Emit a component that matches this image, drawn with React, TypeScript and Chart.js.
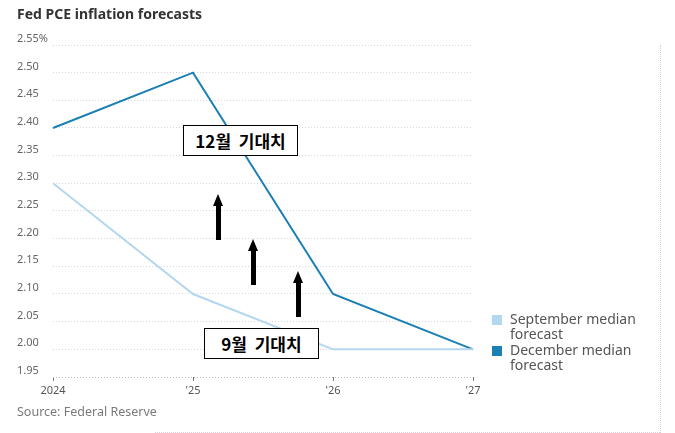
import React, { useEffect, useRef } from "react";
import { Chart, registerables } from "chart.js";

Chart.register(...registerables);

const years = ["2024", "'25", "'26", "'27"];
const septemberForecast = [2.3, 2.1, 2.0, 2.0];
const decemberForecast = [2.4, 2.5, 2.1, 2.0];
const yMin = 1.95;
const yMax = 2.55;
const yStep = 0.05;

const FONT = "'Noto Sans', 'Open Sans', sans-serif";
const KFONT = "'Noto Sans CJK KR', 'Noto Sans', sans-serif";

function Arrow({ x, top, bottom }: { x: number; top: number; bottom: number }) {
  const headH = 12;
  const headW = 11;
  const shaft = 5;
  return (
    <div style={{ position: "absolute", left: x - headW / 2, top, width: headW, height: bottom - top }}>
      <div
        style={{
          position: "absolute",
          left: 0,
          top: 0,
          width: 0,
          height: 0,
          borderLeft: `${headW / 2}px solid transparent`,
          borderRight: `${headW / 2}px solid transparent`,
          borderBottom: `${headH}px solid #000`,
        }}
      />
      <div
        style={{
          position: "absolute",
          left: (headW - shaft) / 2,
          top: headH - 1,
          width: shaft,
          height: bottom - top - headH + 1,
          background: "#000",
        }}
      />
    </div>
  );
}

function Box({ left, top, text }: { left: number; top: number; text: string }) {
  return (
    <div
      style={{
        position: "absolute",
        left,
        top,
        width: 115,
        height: 31,
        boxSizing: "border-box",
        border: "1px solid #000",
        background: "#fff",
        display: "flex",
        alignItems: "center",
        justifyContent: "center",
        fontFamily: KFONT,
        fontWeight: 700,
        fontSize: 17,
        color: "#000",
        whiteSpace: "pre",
      }}
    >
      {text}
    </div>
  );
}

export default function App() {
  const canvasRef = useRef<HTMLCanvasElement | null>(null);

  useEffect(() => {
    if (!canvasRef.current) return;
    const chart = new Chart(canvasRef.current, {
      type: "line",
      data: {
        labels: years,
        datasets: [
          {
            label: "September median forecast",
            data: septemberForecast,
            borderColor: "#b3d7ef",
            borderWidth: 2,
            pointRadius: 0,
            tension: 0,
          },
          {
            label: "December median forecast",
            data: decemberForecast,
            borderColor: "#1a7fb5",
            borderWidth: 2,
            pointRadius: 0,
            tension: 0,
          },
        ],
      },
      options: {
        animation: false,
        responsive: false,
        maintainAspectRatio: false,
        layout: { padding: { left: 17, top: 45, right: 202, bottom: 36 } },
        plugins: {
          legend: { display: false },
          tooltip: { enabled: false },
          title: { display: false },
        },
        scales: {
          x: {
            type: "category",
            offset: false,
            grid: {
              display: true,
              drawOnChartArea: false,
              drawTicks: true,
              tickLength: 4,
              color: "#777",
            },
            border: { display: false },
            ticks: {
              color: "#555",
              font: { family: FONT, size: 11 },
              padding: 3,
              maxRotation: 0,
            },
            afterFit: (scale: any) => {
              scale.height = 20;
            },
          },
          y: {
            type: "linear",
            min: yMin,
            max: yMax,
            grid: {
              color: (ctx: any) => (ctx.tick && Math.abs(ctx.tick.value - yMin) < 1e-6 ? "#b8b8b8" : "#dcd4dc"),
              drawTicks: false,
              lineWidth: 1,
            },
            border: { display: false, dash: [1, 2] },
            ticks: {
              stepSize: yStep,
              color: "#666",
              font: { family: FONT, size: 11 },
              crossAlign: "far",
              labelOffset: -6,
              padding: 0,
              callback: (v: any) => {
                const s = Number(v).toFixed(2);
                return Math.abs(Number(v) - yMax) < 1e-6 ? s + "%" : s;
              },
            },
            afterFit: (scale: any) => {
              scale.width = 36;
            },
          },
        },
      },
    });
    return () => chart.destroy();
  }, []);

  return (
    <div style={{ position: "fixed", left: 0, top: 0, width: 675, height: 433, background: "#fff", overflow: "hidden" }}>
      <canvas ref={canvasRef} width={675} height={433} style={{ position: "absolute", left: 0, top: 0, width: 675, height: 433 }} />
      <div
        style={{
          position: "absolute",
          left: 17,
          top: 4,
          fontFamily: FONT,
          fontWeight: 700,
          fontSize: 14,
          color: "#333",
          whiteSpace: "nowrap",
        }}
      >
        Fed PCE inflation forecasts
      </div>
      <div
        style={{
          position: "absolute",
          left: 17,
          top: 403,
          fontFamily: FONT,
          fontSize: 12.5,
          color: "#7a7a7a",
          whiteSpace: "nowrap",
        }}
      >
        Source: Federal Reserve
      </div>
      <div style={{ position: "absolute", left: 492, top: 311, fontFamily: FONT, fontSize: 14, color: "#555", lineHeight: "15px" }}>
        <div style={{ display: "flex", alignItems: "flex-start" }}>
          <div style={{ width: 10, height: 10, background: "#b3d7ef", marginTop: 4, marginRight: 8 }} />
          <div>
            September median
            <br />
            forecast
          </div>
        </div>
        <div style={{ display: "flex", alignItems: "flex-start", marginTop: 1 }}>
          <div style={{ width: 10, height: 10, background: "#1a7fb5", marginTop: 4, marginRight: 8 }} />
          <div>
            December median
            <br />
            forecast
          </div>
        </div>
      </div>
      <div style={{ position: "absolute", left: 660, top: 45, height: 388, borderLeft: "1px dotted #d0d0d0" }} />
      <div style={{ position: "absolute", left: 155, top: 432, width: 505, borderTop: "1px dotted #d8d0e8" }} />
      <Box left={183} top={125} text={"12월  기대치"} />
      <Box left={204} top={328} text={"9월  기대치"} />
      <Arrow x={218} top={194} bottom={240} />
      <Arrow x={253} top={239} bottom={285} />
      <Arrow x={298} top={271} bottom={317} />
    </div>
  );
}
